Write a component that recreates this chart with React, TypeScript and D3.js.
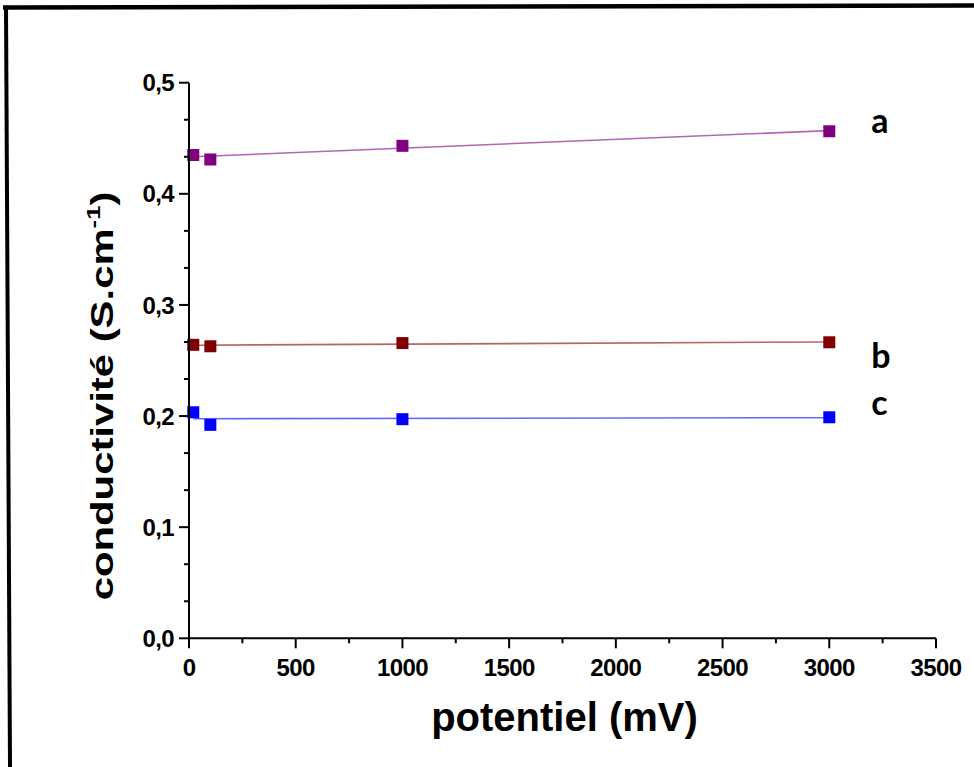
import React from 'react';
import * as d3 from 'd3';

// ---- Data ----
const potentials = [20, 100, 1000, 3000]; // mV
const seriesA = [0.4349, 0.4309, 0.4432, 0.4563];
const seriesB = [0.2641, 0.2628, 0.2657, 0.2664];
const seriesC = [0.2034, 0.1921, 0.1972, 0.1989];
const seriesNames = ['a', 'b', 'c'];
const seriesColors = ['#800080', '#800000', '#0000ff'];
const xTickValues = [0, 500, 1000, 1500, 2000, 2500, 3000, 3500];
const yTickValues = [0, 0.1, 0.2, 0.3, 0.4, 0.5];
const xTitle = 'potentiel (mV)';
const yTitleMain = 'conductivité (S.cm';
const yTitleSup = '-1';
const yTitleEnd = ')';

const W = 974;
const H = 767;

function linearFit(xs: number[], ys: number[]) {
  const mx = d3.mean(xs) as number;
  const my = d3.mean(ys) as number;
  let sxy = 0;
  let sxx = 0;
  xs.forEach((x, i) => {
    sxy += (x - mx) * (ys[i] - my);
    sxx += (x - mx) * (x - mx);
  });
  const slope = sxy / sxx;
  const intercept = my - slope * mx;
  return (x: number) => intercept + slope * x;
}

const fmtLocale = d3.formatLocale({ decimal: ',', thousands: '.', grouping: [3], currency: ['', ''] });
const yFmt = fmtLocale.format('.1f');

export default function App() {
  const x = d3.scaleLinear().domain([0, 3500]).range([189, 936]);
  const y = d3.scaleLinear().domain([0, 0.5]).range([638.3, 82.7]);

  const series = [seriesA, seriesB, seriesC];
  const labelDy = [2, 26, -2];

  const xMinor: number[] = [];
  for (let i = 0; i < xTickValues.length - 1; i++) {
    xMinor.push((xTickValues[i] + xTickValues[i + 1]) / 2);
  }
  const yMinor: number[] = [];
  for (let i = 0; i < yTickValues.length - 1; i++) {
    const step = yTickValues[i + 1] - yTickValues[i];
    yMinor.push(yTickValues[i] + step / 3, yTickValues[i] + (2 * step) / 3);
  }

  const font = '"Liberation Sans", Arial, sans-serif';
  const ms = 12;

  return (
    <svg
      width={W}
      height={H}
      viewBox={`0 0 ${W} ${H}`}
      style={{ position: 'absolute', left: 0, top: 0, background: '#fff' }}
    >
      <rect x={0} y={0} width={W} height={H} fill="#fff" />
      {/* frame */}
      <line x1={3} y1={7.5} x2={W} y2={5.5} stroke="#000" strokeWidth={4.5} />
      <line x1={6} y1={6} x2={10} y2={H} stroke="#000" strokeWidth={4} />

      {/* fit lines */}
      {series.map((ys, si) => {
        const f = linearFit(potentials, ys);
        const x0 = d3.min(potentials) as number;
        const x1 = d3.max(potentials) as number;
        const pts: [number, number][] = [
          [x0, f(x0)],
          [x1, f(x1)],
        ];
        const path = d3
          .line<[number, number]>()
          .x((d) => x(d[0]))
          .y((d) => y(d[1]))(pts);
        return (
          <path
            key={'fit' + si}
            d={path || ''}
            fill="none"
            stroke={seriesColors[si]}
            strokeOpacity={0.6}
            strokeWidth={1.6}
          />
        );
      })}

      {/* markers */}
      {series.map((ys, si) =>
        ys.map((v, i) => (
          <rect
            key={`m${si}-${i}`}
            x={x(potentials[i]) - ms / 2}
            y={y(v) - ms / 2}
            width={ms}
            height={ms}
            fill={seriesColors[si]}
          />
        ))
      )}

      {/* axes */}
      <g stroke="#000" strokeWidth={2} fill="none">
        <line x1={x(0)} y1={y(0.5)} x2={x(0)} y2={y(0) + 1} />
        <line x1={x(0) - 1} y1={y(0)} x2={x(3500)} y2={y(0)} />
        {xTickValues.map((t) => (
          <line key={'xt' + t} x1={x(t)} x2={x(t)} y1={y(0)} y2={y(0) + 10} />
        ))}
        {xMinor.map((t) => (
          <line key={'xm' + t} x1={x(t)} x2={x(t)} y1={y(0)} y2={y(0) + 5} />
        ))}
        {yTickValues.map((t) => (
          <line key={'yt' + t} x1={x(0) - 10} x2={x(0)} y1={y(t)} y2={y(t)} />
        ))}
        {yMinor.map((t, i) => (
          <line key={'ym' + i} x1={x(0) - 5} x2={x(0)} y1={y(t)} y2={y(t)} />
        ))}
      </g>

      {/* tick labels */}
      <g fontFamily={font} fontWeight="bold" fontSize={24} fill="#000" letterSpacing={-0.6}>
        {xTickValues.map((t) => (
          <text key={'xl' + t} x={x(t)} y={676} textAnchor="middle">
            {t}
          </text>
        ))}
        {yTickValues.map((t) => (
          <text key={'yl' + t} x={x(0) - 15} y={y(t)} dy="0.36em" textAnchor="end">
            {yFmt(t)}
          </text>
        ))}
      </g>

      {/* series labels */}
      <g fontFamily="Lato, 'Open Sans', sans-serif" fontWeight="bold" fontSize={34} fill="#000">
        {series.map((ys, si) => (
          <text key={'sl' + si} x={x(3000) + 42} y={y(ys[ys.length - 1]) + labelDy[si]}>
            {seriesNames[si]}
          </text>
        ))}
      </g>

      {/* axis titles */}
      <text
        x={564.5}
        y={731}
        textAnchor="middle"
        fontFamily={font}
        fontWeight="bold"
        fontSize={40}
        fill="#000"
      >
        {xTitle}
      </text>
      <g transform="translate(113,396) rotate(-90) scale(1.35,1)">
        <text
          x={0}
          y={0}
          textAnchor="middle"
          fontFamily={font}
          fontWeight="bold"
          fontSize={31}
          fill="#000"
        >
          {yTitleMain}
          <tspan fontSize={19} dy={-13}>
            {yTitleSup}
          </tspan>
          <tspan dy={13}>{yTitleEnd}</tspan>
        </text>
      </g>
    </svg>
  );
}
